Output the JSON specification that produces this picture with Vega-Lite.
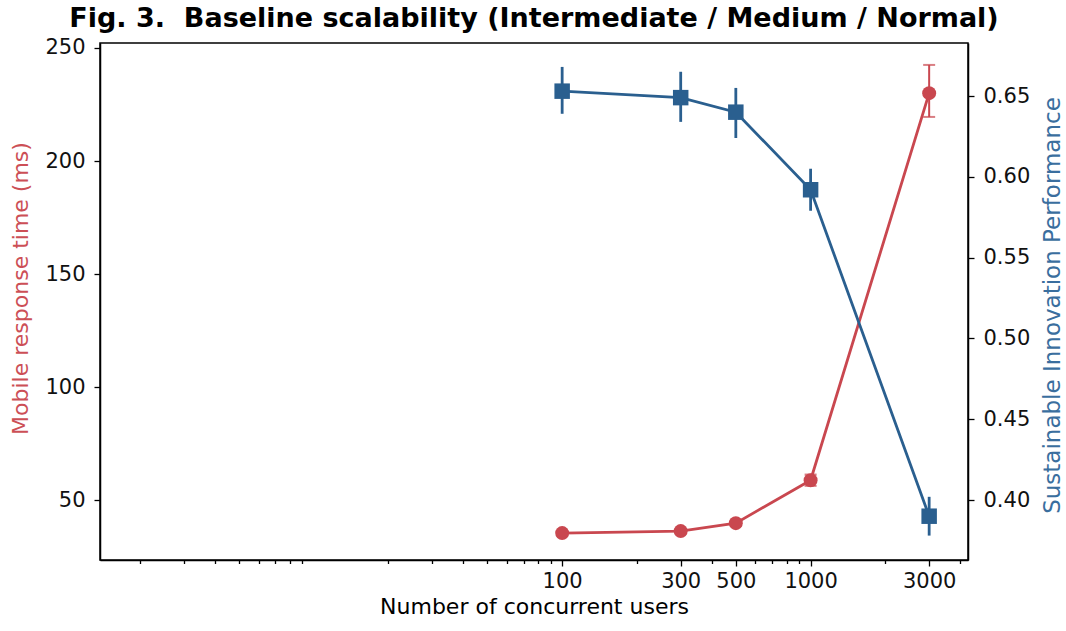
{
  "$schema": "https://vega.github.io/schema/vega-lite/v6.json",
  "width": 868,
  "height": 517,
  "autosize": {"type": "none"},
  "padding": {"left": 100, "top": 43, "right": 98, "bottom": 71},
  "background": "white",
  "config": {
    "font": "DejaVu Sans",
    "view": {"stroke": "black", "strokeWidth": 1.5},
    "axis": {"grid": false, "domainColor": "black", "domainWidth": 1.5, "tickColor": "black", "tickWidth": 1.3, "labelFont": "DejaVu Sans", "labelFontSize": 21, "labelColor": "#111", "titleFont": "DejaVu Sans", "titleFontSize": 22, "titleFontWeight": "normal"}
  },
  "title": {"text": "Fig. 3.\u00a0 Baseline scalability (Intermediate / Medium / Normal)", "font": "DejaVu Sans", "fontSize": 27, "fontWeight": "bold", "anchor": "middle", "offset": 4, "color": "black"},
  "data": {"values": [
    {"users": 100, "rt": 35.4, "rt_lo": 34.4, "rt_hi": 36.4, "sip": 0.653, "sip_lo": 0.639, "sip_hi": 0.668},
    {"users": 300, "rt": 36.3, "rt_lo": 35.3, "rt_hi": 37.3, "sip": 0.649, "sip_lo": 0.634, "sip_hi": 0.665},
    {"users": 500, "rt": 39.8, "rt_lo": 38.6, "rt_hi": 41.0, "sip": 0.640, "sip_lo": 0.624, "sip_hi": 0.655},
    {"users": 1000, "rt": 58.8, "rt_lo": 56.3, "rt_hi": 61.3, "sip": 0.592, "sip_lo": 0.579, "sip_hi": 0.605},
    {"users": 3000, "rt": 230.0, "rt_lo": 219.5, "rt_hi": 242.5, "sip": 0.390, "sip_lo": 0.378, "sip_hi": 0.402}
  ]},
  "layer": [
    {
      "encoding": {
        "x": {"field": "users", "type": "quantitative", "scale": {"type": "log", "domain": [1.38, 4300], "nice": false, "zero": false},
          "axis": {"orient": "bottom", "title": "Number of concurrent users", "values": [100, 300, 500, 1000, 3000], "labelExpr": "format(datum.value, 'd')", "tickSize": 6, "labelPadding": 4, "titlePadding": 5, "labelFlush": false}}
      },
      "layer": [
        {"mark": {"type": "rule", "color": "#c9474f", "strokeWidth": 2},
         "encoding": {"y": {"field": "rt_lo", "type": "quantitative"}, "y2": {"field": "rt_hi"}}},
        {"mark": {"type": "tick", "color": "#c9474f", "orient": "horizontal", "size": 12, "thickness": 2},
         "encoding": {"y": {"field": "rt_lo", "type": "quantitative"}}},
        {"mark": {"type": "tick", "color": "#c9474f", "orient": "horizontal", "size": 12, "thickness": 2},
         "encoding": {"y": {"field": "rt_hi", "type": "quantitative"}}},
        {"mark": {"type": "line", "color": "#c9474f", "strokeWidth": 2.8},
         "encoding": {"y": {"field": "rt", "type": "quantitative"}}},
        {"mark": {"type": "point", "shape": "circle", "filled": true, "opacity": 1, "color": "#c9474f", "size": 195},
         "encoding": {"y": {"field": "rt", "type": "quantitative", "scale": {"domain": [23.5, 252.2], "nice": false, "zero": false},
           "axis": {"title": "Mobile response time (ms)", "titleColor": "#cc4f56", "titleAngle": 270, "titleBaseline": "middle", "titleAlign": "center", "titleX": -80, "titleY": 245, "values": [50, 100, 150, 200, 250], "tickSize": 6, "labelPadding": 9}}}}
      ]
    },
    {
      "encoding": {
        "x": {"field": "users", "type": "quantitative",
          "axis": {"orient": "bottom", "title": null, "values": [2, 3, 4, 5, 6, 7, 8, 9, 20, 30, 40, 50, 60, 70, 80, 90, 200, 400, 600, 700, 800, 900, 2000, 4000], "labels": false, "tickSize": 3.5, "domain": false}}
      },
      "layer": [
        {"mark": {"type": "rule", "color": "#2a5f8f", "strokeWidth": 2.8},
         "encoding": {"y": {"field": "sip_lo", "type": "quantitative"}, "y2": {"field": "sip_hi"}}},
        {"mark": {"type": "line", "color": "#2a5f8f", "strokeWidth": 2.8},
         "encoding": {"y": {"field": "sip", "type": "quantitative"}}},
        {"mark": {"type": "point", "shape": "square", "filled": true, "opacity": 1, "color": "#2a5f8f", "size": 240},
         "encoding": {"y": {"field": "sip", "type": "quantitative", "scale": {"domain": [0.3629, 0.6828], "nice": false, "zero": false},
           "axis": {"orient": "right", "title": "Sustainable Innovation Performance", "titleColor": "#3a6e9e", "titleFontSize": 23, "titleAngle": 270, "titleBaseline": "middle", "titleAlign": "center", "titleX": 84, "titleY": 262, "values": [0.40, 0.45, 0.50, 0.55, 0.60, 0.65], "format": ".2f", "tickSize": 6, "labelPadding": 9}}}}
      ]
    }
  ],
  "resolve": {"scale": {"y": "independent"}, "axis": {"x": "independent", "y": "independent"}}
}
